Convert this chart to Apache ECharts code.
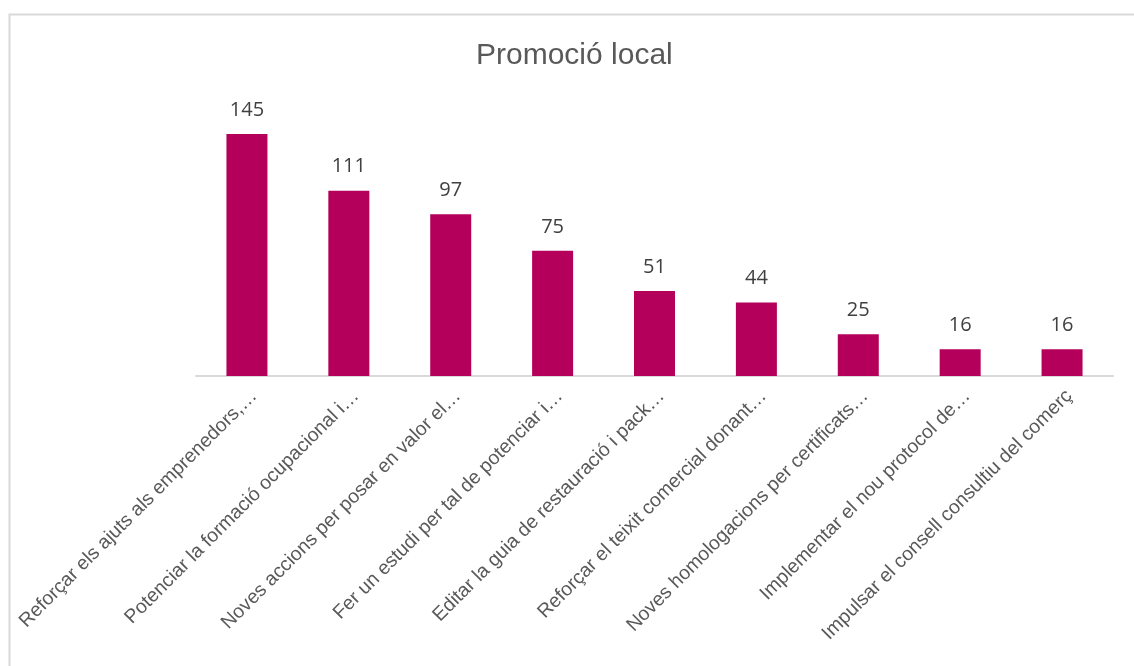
<!DOCTYPE html>
<html>
<head>
<meta charset="utf-8">
<title>Promoció local</title>
<script src="https://cdn.jsdelivr.net/npm/echarts@6/dist/echarts.min.js"></script>
<style>
  html, body { margin: 0; padding: 0; background: #fff; }
  #chart { width: 1134px; height: 666px; }
</style>
</head>
<body>
<div id="chart"></div>
<script>
// dades del gràfic
var titleText = 'Promoció local'
var categories = [
  'Reforçar els ajuts als emprenedors,…',
  'Potenciar la formació ocupacional i…',
  'Noves accions per posar en valor el…',
  'Fer un estudi per tal de potenciar i…',
  'Editar la guia de restauració i pack…',
  'Reforçar el teixit comercial donant…',
  'Noves homologacions per certificats…',
  'Implementar el nou protocol de…',
  'Impulsar el consell consultiu del comerç'
]
var values = [145, 111, 97, 75, 51, 44, 25, 16, 16]

var chart = echarts.init(document.getElementById('chart'))
chart.setOption({
  animation: false,
  backgroundColor: '#fff',
  graphic: [{
    type: 'rect',
    left: 7,
    top: 12,
    shape: { width: 1200, height: 700 },
    style: { fill: 'none', stroke: '#d9d9d9', lineWidth: 2 },
    silent: true
  }],
  title: {
    text: titleText,
    left: 471,
    top: 36,
    textStyle: {
      fontFamily: 'Liberation Sans',
      fontSize: 30,
      fontWeight: 'normal',
      color: '#595959'
    }
  },
  grid: {
    left: 196,
    right: 21,
    top: 109,
    bottom: 290,
    containLabel: false
  },
  xAxis: {
    type: 'category',
    data: categories,
    axisLine: { show: true, lineStyle: { color: '#d9d9d9', width: 2 } },
    axisTick: { show: false },
    axisLabel: {
      interval: 0,
      rotate: 45,
      margin: 10,
      verticalAlign: 'top',
      fontFamily: 'Liberation Sans',
      fontSize: 19.5,
      color: '#595959'
    }
  },
  yAxis: {
    type: 'value',
    min: 0,
    max: 160,
    show: false,
    splitLine: { show: false }
  },
  series: [{
    type: 'bar',
    data: values,
    barWidth: 41,
    itemStyle: { color: '#b5005b' },
    label: {
      show: true,
      position: 'top',
      distance: 14,
      fontFamily: 'Open Sans',
      fontSize: 20,
      color: '#404040'
    }
  }]
})
</script>
</body>
</html>
